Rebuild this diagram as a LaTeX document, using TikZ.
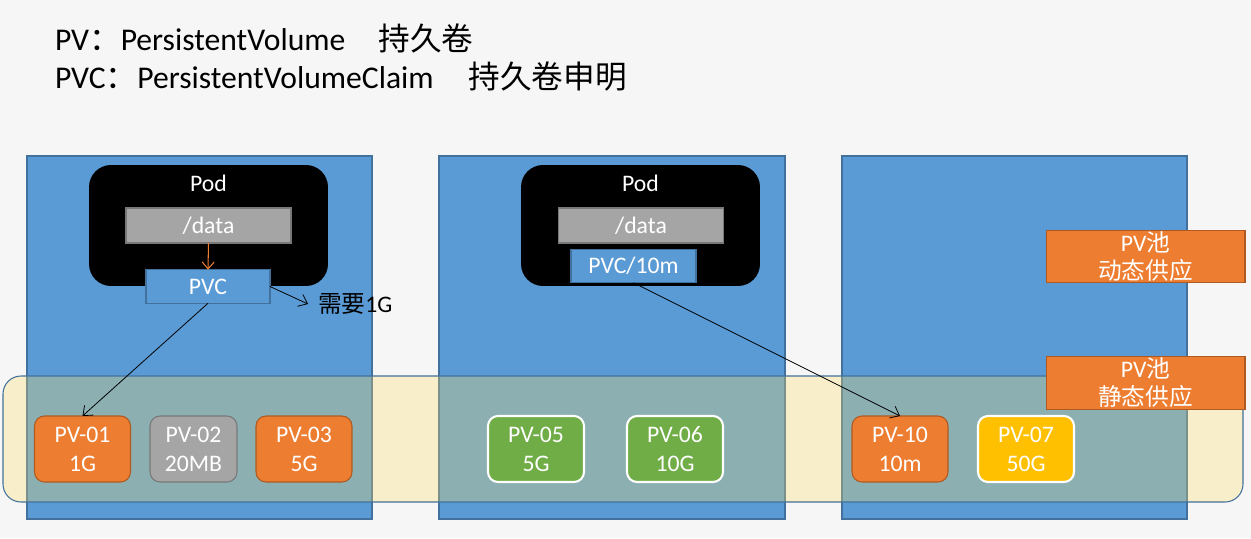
\documentclass[tikz,border=0pt]{standalone}
\usepackage{fontspec}
\setmainfont{Carlito}
\newfontfamily\cjk{Noto Sans CJK SC}
\usetikzlibrary{arrows.meta}
\definecolor{bgc}{RGB}{246,246,246}
\definecolor{bfill}{RGB}{91,155,213}
\definecolor{bline}{RGB}{65,113,156}
\definecolor{ofill}{RGB}{237,125,49}
\definecolor{oline}{RGB}{174,90,33}
\definecolor{gfill}{RGB}{165,165,165}
\definecolor{gline}{RGB}{120,120,120}
\definecolor{grfill}{RGB}{112,173,71}
\definecolor{yfill}{RGB}{255,192,0}
\definecolor{bandc}{RGB}{255,222,100}
\newcommand\pvtext{\fontsize{13.5}{16.6}\selectfont}
\newcommand\pooltext{\fontsize{13.5}{15.9}\selectfont}
\newcommand\titletext{\fontsize{18}{21}\selectfont}
\begin{document}
\begin{tikzpicture}[x=0.02cm,y=-0.02cm,
  every node/.style={inner sep=0pt, outer sep=0pt},
  host/.style={draw=bline, fill=bfill, line width=0.6pt},
  podbox/.style={fill=black, rounded corners=0.44cm, minimum width=4.78cm, minimum height=2.42cm},
  podlabel/.style={text=white, font=\pvtext, anchor=base},
  databox/.style={draw=gline, fill=gfill, line width=0.6pt, minimum width=3.3cm, minimum height=0.7cm, text=white, font=\pvtext},
  pvcbox/.style={draw=bline, fill=bfill, line width=0.6pt, minimum height=0.67cm, text=white, font=\pvtext},
  pvbox/.style={rounded corners=0.2cm, minimum width=1.92cm, minimum height=1.32cm, align=center, text=white, font=\pvtext},
  pvorange/.style={pvbox, draw=oline, fill=ofill, line width=0.6pt},
  pvgray/.style={pvbox, draw=gline, fill=gfill, line width=0.6pt},
  pvgreen/.style={pvbox, draw=white, fill=grfill, line width=1.2pt},
  pvgold/.style={pvbox, draw=white, fill=yfill, line width=1.2pt},
  poolbox/.style={draw=oline, fill=ofill, line width=0.6pt, minimum width=3.98cm, minimum height=1.05cm, align=center, text=white, font=\pooltext},
  arr/.style={draw=black, line width=0.45pt, -{Straight Barb[length=1.6mm,width=2.6mm]}},
  oarr/.style={draw=ofill, line width=0.6pt, -{Straight Barb[length=1.4mm,width=2.4mm]}},
  bandstyle/.style={draw=bline, fill=bandc, fill opacity=0.3, draw opacity=1, line width=0.6pt, rounded corners=0.36cm}
]
\useasboundingbox (0,0) rectangle (1251,538);
\fill[bgc] (0,0) rectangle (1251,538);

% titles
\node[anchor=base west, font=\titletext] (t1) at (55,50) {PV{\cjk ：}PersistentVolume\hspace{1.05em}{\cjk 持久卷}};
\node[anchor=base west, font=\titletext] (t2) at (55,88) {PVC{\cjk ：}PersistentVolumeClaim\hspace{1.1em}{\cjk 持久卷申明}};

% hosts
\draw[host] (27,156) rectangle (372,519);
\draw[host] (439,156) rectangle (785,519);
\draw[host] (842,156) rectangle (1187,519);

% pod 1
\node[podbox] (pod1) at (208.5,225.5) {};
\node[podlabel] (pod1l) at (208.5,191) {Pod};
\node[databox] (data1) at (208.5,225.5) {/data};
\node[pvcbox, minimum width=2.48cm] (pvc1) at (208,286.5) {PVC};
\draw[oarr] (data1.south) -- (pvc1.north);
\node[anchor=west, inner xsep=0.2cm, font=\pvtext] (need) at (308,304) {{\cjk 需要}1G};
\draw[arr] (pvc1.east) -- (need.west);

% pod 2
\node[podbox] (pod2) at (640.5,225.5) {};
\node[podlabel] (pod2l) at (640.5,191) {Pod};
\node[databox] (data2) at (641,225.5) {/data};
\node[pvcbox, minimum width=2.5cm] (pvc2) at (633.5,266) {PVC/10m};

% band
\draw[bandstyle] (3,376) rectangle (1243,502);

% PVs
\node[pvorange] (pv01) at (82.5,449) {PV-01\\1G};
\node[pvgray, minimum width=1.74cm] (pv02) at (193.5,449) {PV-02\\20MB};
\node[pvorange] (pv03) at (304,449) {PV-03\\5G};
\node[pvgreen] (pv05) at (536,449) {PV-05\\5G};
\node[pvgreen] (pv06) at (675,449) {PV-06\\10G};
\node[pvorange] (pv10) at (900,449) {PV-10\\10m};
\node[pvgold] (pv07) at (1026,449) {PV-07\\50G};

% pools
\node[poolbox] (dyn) at (1145.5,256.5) {PV{\cjk 池}\\{\cjk 动态供应}};
\node[poolbox] (sta) at (1145.5,383) {PV{\cjk 池}\\{\cjk 静态供应}};

% claims
\draw[arr] (pvc1.south) -- (pv01.north);
\draw[arr] (pvc2.south) -- (pv10.north);
\end{tikzpicture}
\end{document}
